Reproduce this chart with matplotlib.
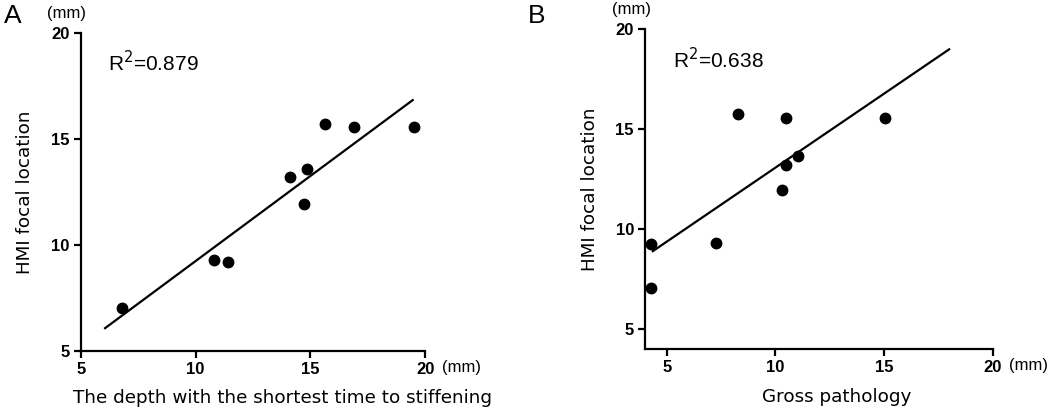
import numpy as np
import matplotlib
matplotlib.use('Agg')
import matplotlib.pyplot as plt

# HMI focal location vs depth (A) and vs gross pathology (B), mm
hmi_y = [7.04, 9.29, 9.21, 13.21, 13.58, 11.95, 15.72, 15.57, 15.57]
depth_x = [6.78, 10.81, 11.42, 14.13, 14.87, 14.71, 15.65, 16.9, 19.53]

gross_x = [4.28, 7.28, 4.28, 10.49, 11.04, 10.29, 8.27, 10.49, 15.03]
gross_y = [9.23, 9.33, 7.06, 13.22, 13.64, 11.96, 15.75, 15.57, 15.58]

# x range covered by the fitted line in each panel
fit_range_a = [6.06, 19.46]
fit_range_b = [4.36, 18.0]

r2_a = '0.879'
r2_b = '0.638'

tick_vals = [5, 10, 15, 20]

plt.rcParams['font.family'] = ['DejaVu Sans']

fig = plt.figure(figsize=(10.5, 4.08), dpi=100)
axA = fig.add_axes([0.0769, 0.1397, 0.328, 0.779])
axB = fig.add_axes([0.6143, 0.1446, 0.3311, 0.7836])


def style(ax, xlim, ylim, xlabel, xlab_pos):
	ax.set_xlim(*xlim)
	ax.set_ylim(*ylim)
	ax.set_xticks(tick_vals)
	ax.set_yticks(tick_vals)
	for s in ['top', 'right']:
		ax.spines[s].set_visible(False)
	for s in ['left', 'bottom']:
		ax.spines[s].set_linewidth(1.6)
	ax.tick_params(direction='out', length=5, width=1.6, pad=3)
	for lab in ax.get_xticklabels() + ax.get_yticklabels():
		lab.set_fontfamily('Liberation Sans')
		lab.set_fontweight('bold')
		lab.set_fontsize(12)
	ax.set_xlabel(xlabel, fontsize=13.2)
	ax.xaxis.set_label_coords(*xlab_pos)
	ax.set_ylabel('HMI focal location', fontsize=13.2, labelpad=12)
	# units
	ax.annotate('(mm)', xy=(1, 0), xycoords='axes fraction', xytext=(12, -12),
		textcoords='offset points', fontsize=12, fontfamily='Liberation Sans',
		ha='left', va='center')
	ax.annotate('(mm)', xy=(0, 1), xycoords='axes fraction', xytext=(-10, 14),
		textcoords='offset points', fontsize=12, fontfamily='Liberation Sans',
		ha='center', va='center')


def fit_line(ax, x, y, xr):
	k, b = np.polyfit(x, y, 1)
	xs = np.array(xr)
	ax.plot(xs, k * xs + b, color='black', lw=1.6)


# panel A
axA.plot(depth_x, hmi_y, 'o', color='black', ms=7.5)
fit_line(axA, depth_x, hmi_y, fit_range_a)
style(axA, (5, 20), (5, 20), 'The depth with the shortest time to stiffening', (0.585, -0.12))
axA.text(6.19, 18.6, 'R$^2$=' + r2_a, fontsize=15, fontfamily='Liberation Sans', va='center')

# panel B
axB.plot(gross_x, gross_y, 'o', color='black', ms=7.5)
fit_line(axB, gross_x, gross_y, fit_range_b)
style(axB, (4, 20), (4, 20), 'Gross pathology', (0.55, -0.122))
axB.text(5.29, 18.5, 'R$^2$=' + r2_b, fontsize=15, fontfamily='Liberation Sans', va='center')

fig.text(0.004, 0.96, 'A', fontsize=19, fontfamily='Liberation Sans', va='center')
fig.text(0.503, 0.96, 'B', fontsize=19, fontfamily='Liberation Sans', va='center')

fig.savefig('out.png', dpi=100)
